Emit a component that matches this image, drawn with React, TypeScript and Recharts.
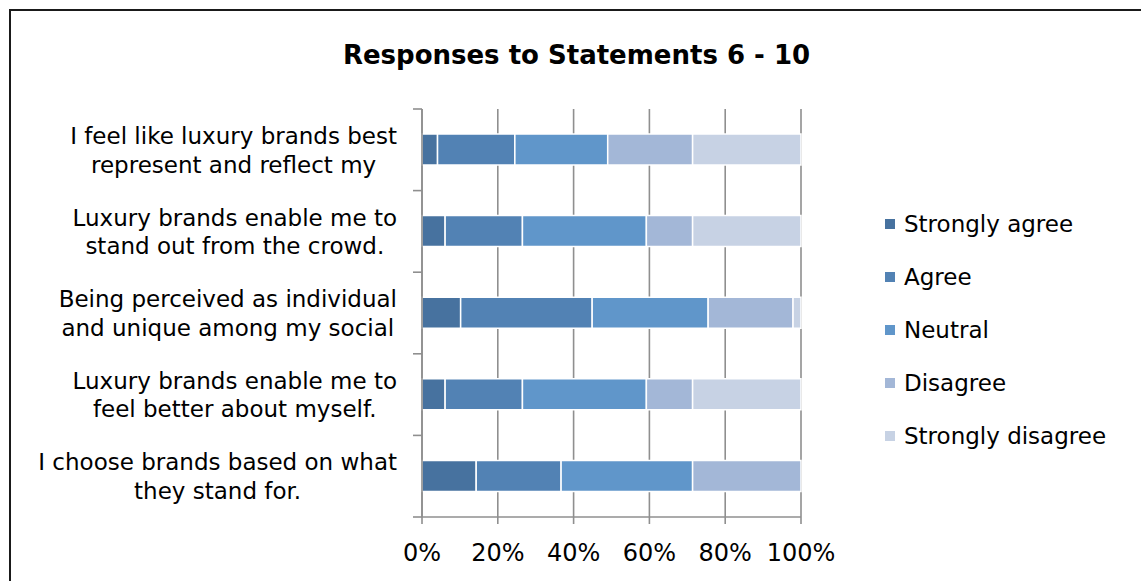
import React from 'react';
import { BarChart, Bar, XAxis, YAxis, CartesianGrid } from 'recharts';

// statements (labels are cut off in the original chart, kept as they appear)
const statements = [
  'I feel like luxury brands best\nrepresent and reflect my',
  'Luxury brands enable me to\nstand out from the crowd.',
  'Being perceived as individual\nand unique among my social',
  'Luxury brands enable me to\nfeel better about myself.',
  'I choose brands based on what\nthey stand for.',
];

const seriesNames = ['Strongly agree', 'Agree', 'Neutral', 'Disagree', 'Strongly disagree'];
const seriesColors = ['#47729f', '#5282b4', '#6096ca', '#a3b7d7', '#c7d2e4'];

// share of respondents in percent, per statement
const stronglyAgree = [4.1, 6.1, 10.2, 6.1, 14.3];
const agree = [20.4, 20.4, 34.7, 20.4, 22.4];
const neutral = [24.5, 32.7, 30.6, 32.7, 34.7];
const disagree = [22.4, 12.2, 22.4, 12.2, 28.6];
const stronglyDisagree = [28.6, 28.6, 2.1, 28.6, 0];

const xTicks = [0, 20, 40, 60, 80, 100];

const seriesValues = [stronglyAgree, agree, neutral, disagree, stronglyDisagree];

const data = statements.map((s, i) => {
  const row: any = { statement: s };
  seriesNames.forEach((n, k) => {
    row[n] = seriesValues[k][i];
  });
  return row;
});

const FONT = '"DejaVu Sans", Verdana, sans-serif';
const GRID = '#8f8f8f';

let measureCtx: CanvasRenderingContext2D | null = null;
function textWidth(text: string, font: string) {
  if (!measureCtx) measureCtx = document.createElement('canvas').getContext('2d');
  if (!measureCtx) return text.length * 12;
  measureCtx.font = font;
  return measureCtx.measureText(text).width;
}

const AXIS_GAP = 25;

function StatementTick(props: any) {
  const { x, y, payload, index } = props;
  const lines = String(payload.value).split('\n');
  const font = `23px ${FONT}`;
  const maxW = Math.max(...lines.map((l) => textWidth(l, font)));
  const cx = x - maxW / 2;
  const half = payload.offset || 0;
  const axisX = x + AXIS_GAP;
  const lineGap = 28.6;
  const start = -((lines.length - 1) * lineGap) / 2;
  return (
    <g>
      <line x1={axisX - 9} x2={axisX} y1={y - half} y2={y - half} stroke={GRID} strokeWidth={1.6} />
      {index === statements.length - 1 && (
        <line x1={axisX - 9} x2={axisX} y1={y + half} y2={y + half} stroke={GRID} strokeWidth={1.6} />
      )}
      {lines.map((l, i) => (
        <text
          key={i}
          x={cx}
          y={y + start + i * lineGap + 8.4}
          textAnchor="middle"
          fontFamily={FONT}
          fontSize={23}
          fill="#000"
        >
          {l}
        </text>
      ))}
    </g>
  );
}

function ChartLegend() {
  return (
    <div style={{ position: 'absolute', left: 885, top: 197, fontFamily: FONT, fontSize: 23, color: '#000' }}>
      {seriesNames.map((n, k) => (
        <div key={n} style={{ display: 'flex', alignItems: 'center', height: 53.2 }}>
          <span style={{ display: 'inline-block', width: 10, height: 10, background: seriesColors[k], marginRight: 9 }} />
          <span>{n}</span>
        </div>
      ))}
    </div>
  );
}

export default function App() {
  return (
    <div style={{ position: 'absolute', left: 0, top: 0, width: 1141, height: 581, overflow: 'hidden', background: '#fff' }}>
      <div
        style={{
          position: 'absolute',
          left: 9,
          top: 9,
          width: 1160,
          height: 600,
          border: '2px solid #1a1a1a',
          boxSizing: 'border-box',
        }}
      />
      <div
        style={{
          position: 'absolute',
          left: 0,
          top: 40,
          width: 1153,
          textAlign: 'center',
          fontFamily: FONT,
          fontWeight: 'bold',
          fontSize: 26,
          color: '#000',
          lineHeight: '30px',
        }}
      >
        Responses to Statements 6 - 10
      </div>
      <div style={{ position: 'absolute', left: 0, top: 0 }}>
        <BarChart
          width={1141}
          height={581}
          data={data}
          layout="vertical"
          margin={{ top: 109, right: 340, bottom: 0, left: 0 }}
          barSize={31}
        >
          <CartesianGrid horizontal={false} stroke={GRID} strokeWidth={1.6} />
          <XAxis
            type="number"
            domain={[0, 100]}
            ticks={xTicks}
            tickFormatter={(v: number) => `${v}%`}
            height={64}
            tickSize={7}
            tickMargin={20}
            interval={0}
            axisLine={{ stroke: GRID, strokeWidth: 1.6 }}
            tickLine={{ stroke: GRID, strokeWidth: 1.6 }}
            tick={{ fill: '#000', fontSize: 24, fontFamily: FONT }}
          />
          <YAxis
            type="category"
            dataKey="statement"
            width={422}
            tickSize={0}
            tickMargin={AXIS_GAP}
            tickLine={false}
            interval={0}
            axisLine={{ stroke: GRID, strokeWidth: 1.6 }}
            tick={<StatementTick />}
          />
          {seriesNames.map((n, k) => (
            <Bar
              key={n}
              dataKey={n}
              stackId="a"
              fill={seriesColors[k]}
              stroke="#fff"
              strokeWidth={1.5}
              isAnimationActive={false}
            />
          ))}
        </BarChart>
      </div>
      <ChartLegend />
    </div>
  );
}
